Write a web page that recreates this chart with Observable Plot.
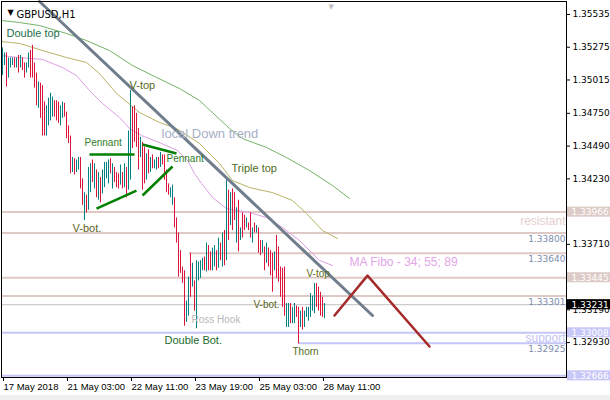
<!DOCTYPE html>
<html><head><meta charset="utf-8">
<script src="https://cdn.jsdelivr.net/npm/d3@7"></script>
<script src="https://cdn.jsdelivr.net/npm/@observablehq/plot@0.6"></script>
<style>
html,body{margin:0;padding:0;background:#f0f0f0;}
#chart svg{display:block;background:#fff;}
</style></head><body><div id="chart"></div>
<script>
// Hourly GBPUSD bars (open / close), bar index 0 = 17 May 2018
const opens = [
1.3505,1.3513,1.3523,1.3503,1.3511,1.3513,1.3519,1.3511,1.3521,1.3511,
1.3519,1.3515,1.3507,1.3511,1.3525,1.3529,1.3515,1.3507,1.3479,1.3499,
1.3497,1.3484,1.3457,1.3465,1.3469,1.3472,1.3485,1.3485,1.3484,1.3465,
1.3471,1.3483,1.3476,1.3465,1.3457,1.3428,1.3439,1.3428,1.3430,1.3440,
1.3423,1.3390,1.3410,1.3398,1.3412,1.3438,1.3415,1.3430,1.3406,1.3424,
1.3411,1.3416,1.3423,1.3419,1.3439,1.3415,1.3432,1.3428,1.3427,1.3418,
1.3428,1.3416,1.3432,1.3414,1.3422,1.3480,1.3481,1.3475,1.3463,1.3440,
1.3452,1.3448,1.3422,1.3446,1.3428,1.3442,1.3431,1.3430,1.3440,1.3432,
1.3442,1.3442,1.3430,1.3419,1.3408,1.3402,1.3408,1.3392,1.3380,1.3366,
1.3353,1.3350,1.3309,1.3314,1.3364,1.3337,1.3342,1.3304,1.3342,1.3344,
1.3350,1.3361,1.3349,1.3370,1.3365,1.3350,1.3353,1.3366,1.3352,1.3372,
1.3353,1.3382,1.3358,1.3414,1.3386,1.3415,1.3412,1.3372,1.3406,1.3374,
1.3396,1.3394,1.3384,1.3388,1.3396,1.3372,1.3388,1.3380,1.3384,1.3374,
1.3364,1.3369,1.3356,1.3368,1.3366,1.3364,1.3350,1.3378,1.3369,1.3353,
1.3352,1.3353,1.3305,1.3305,1.3324,1.3308,1.3308,1.3322,1.3321,1.3305,
1.3321,1.3305,1.3313,1.3310,1.3313,1.3318,1.3316,1.3340,1.3337,1.3333,
1.3329,1.3312];
const closes = [
1.3527,1.3523,1.3496,1.3519,1.3519,1.3519,1.3511,1.3519,1.3507,1.3521,
1.3509,1.3503,1.3515,1.3523,1.3503,1.3503,1.3495,1.3481,1.3500,1.3471,
1.3457,1.3457,1.3481,1.3487,1.3491,1.3488,1.3472,1.3469,1.3467,1.3481,
1.3484,1.3472,1.3455,1.3451,1.3427,1.3440,1.3426,1.3438,1.3440,1.3415,
1.3402,1.3412,1.3396,1.3432,1.3435,1.3420,1.3435,1.3408,1.3428,1.3404,
1.3430,1.3436,1.3436,1.3438,1.3427,1.3435,1.3420,1.3416,1.3415,1.3434,
1.3415,1.3435,1.3408,1.3461,1.3493,1.3447,1.3452,1.3448,1.3430,1.3456,
1.3414,1.3419,1.3443,1.3427,1.3440,1.3431,1.3438,1.3440,1.3431,1.3444,
1.3434,1.3422,1.3412,1.3410,1.3416,1.3418,1.3384,1.3372,1.3345,1.3348,
1.3340,1.3306,1.3326,1.3345,1.3329,1.3356,1.3318,1.3358,1.3357,1.3358,
1.3360,1.3350,1.3372,1.3350,1.3350,1.3368,1.3370,1.3350,1.3376,1.3358,
1.3380,1.3354,1.3422,1.3374,1.3412,1.3382,1.3390,1.3400,1.3365,1.3384,
1.3376,1.3382,1.3392,1.3382,1.3376,1.3384,1.3380,1.3386,1.3364,1.3362,
1.3374,1.3350,1.3372,1.3353,1.3346,1.3333,1.3365,1.3344,1.3341,1.3329,
1.3321,1.3314,1.3324,1.3324,1.3308,1.3321,1.3324,1.3313,1.3292,1.3318,
1.3303,1.3318,1.3321,1.3321,1.3332,1.3330,1.3340,1.3321,1.3318,1.3314,
1.3313,1.3324];

const timeTicks = [0, 32, 64, 96, 128, 160];
const timeLabels = ["17 May 2018", "21 May 03:00", "22 May 11:00", "23 May 19:00", "25 May 03:00", "28 May 11:00"];
const priceTicks = [1.35535, 1.35275, 1.35015, 1.34750, 1.34490, 1.34230, 1.33970, 1.33710, 1.33450, 1.33190, 1.32930];

// Moving averages (MA Fibo 34, 55, 89)
const ma89x = [-0.5, 8.5, 18.5, 32, 42, 53.5, 65, 77, 88.5, 98.5, 113.5, 120, 132, 142, 153.5, 165, 173.5];
const ma89y = [1.35487, 1.35471, 1.35447, 1.35384, 1.35328, 1.35249, 1.35130, 1.35035, 1.34947, 1.34852, 1.34630, 1.34550, 1.34479, 1.34399, 1.34296, 1.34177, 1.34074];
const ma55x = [-0.5, 8.5, 20, 32, 42, 48.5, 57, 68.5, 78.5, 87, 98.5, 108.5, 115, 123.5, 135, 145, 152, 160, 167.5];
const ma55y = [1.35320, 1.35305, 1.35249, 1.35193, 1.35154, 1.35066, 1.34908, 1.34757, 1.34677, 1.34630, 1.34511, 1.34352, 1.34217, 1.34161, 1.34121, 1.34058, 1.33955, 1.33820, 1.33756];
const ma34x = [-0.5, 8.5, 20, 30, 37, 43.5, 50, 58.5, 63.5, 69.5, 79.5, 87.5, 92.5, 96, 99.5, 105, 112, 123.5, 132, 140, 148.5, 155, 158.5, 165];
const ma34y = [1.35209, 1.35193, 1.35178, 1.35114, 1.35050, 1.34931, 1.34828, 1.34717, 1.34630, 1.34574, 1.34511, 1.34455, 1.34376, 1.34272, 1.34194, 1.34082, 1.33994, 1.33963, 1.33923, 1.33844, 1.33740, 1.33638, 1.33582, 1.33542];

// Drawn objects
const trendX = [18.5, 185], trendY = [1.35638, 1.33145];
const zigX = [166, 182.5, 213.5], zigY = [1.33145, 1.33462, 1.32899];
const pennX1 = [43.5, 47, 70, 70], pennY1 = [1.34423, 1.33994, 1.34503, 1.34098];
const pennX2 = [66, 67, 87, 85], pennY2 = [1.34423, 1.34137, 1.34431, 1.34328];

const resistLevels = [1.33966, 1.33800, 1.33640, 1.33445, 1.33301];
const resistStart = [-0.5, -0.5, 93.5, -0.5, -0.5];
const supportLevels = [1.33008, 1.32925, 1.32666];
const supportStart = [-0.5, 148, -0.5];
const bidPrice = 1.33231;
const tagLevels = [1.33966, 1.33445, 1.33008, 1.32666, 1.33231];
const tagKinds = ["res", "res", "sup", "sup", "bid"];
const noteLevels = [1.33800, 1.33640, 1.33301, 1.32925];

const noteText = ["Double top", "V-top", "Pennant", "Pennant", "local Down trend", "Triple top", "V-bot.", "Ross Hook", "Double Bot.", "V-bot.", "V-top", "Thorn", "MA Fibo - 34; 55; 89", "resistant", "support"];
const noteX = [2, 63.5, 41, 82, 79.5, 114.5, 35, 94.5, 81, 125.5, 152, 145, 173.5, 281.5, 281.5];
const noteY = [1.35384, 1.34971, 1.34519, 1.34391, 1.34591, 1.34312, 1.33836, 1.33113, 1.32946, 1.33232, 1.33478, 1.32859, 1.33566, 1.33891, 1.32963];
const noteColor = ["#1d6e4c", "#5b6b18", "#2f7d1f", "#2f7d1f", "#a7afc7", "#4f6b18", "#5b6418", "#b8b8b8", "#1a6b2c", "#5b6418", "#5b6b18", "#4f6b18", "#e3a6e8", "#e6cfca", "#c3c3f3"];
const noteSize = [11, 11, 10, 10, 13, 11, 11, 10, 11, 10, 10, 10, 12, 12, 12];
const noteAnchor = ["start","start","start","start","start","start","start","start","start","start","start","start","start","end","end"];

// ---- build tables ----
const bars = opens.map((o, i) => ({i, open: o, close: closes[i]}));
const pts = (xs, ys) => xs.map((x, k) => ({x, y: ys[k]}));
const segs = pennX1.map((x1, k) => ({x1, y1: pennY1[k], x2: pennX2[k], y2: pennY2[k]}));
const resist = resistLevels.map((y, k) => ({y, x1: resistStart[k]}));
const support = supportLevels.map((y, k) => ({y, x1: supportStart[k]}));
const tags = tagLevels.map((y, k) => ({y, kind: tagKinds[k]}));
const notes = noteText.map((t, k) => ({t, x: noteX[k], y: noteY[k], c: noteColor[k], s: noteSize[k], a: noteAnchor[k]}));

const UP = "#008080", DOWN = "#dc143c";
const RES = "#dfc9c4", SUP = "#c6c6f6";
const tagFill = {res: "#dccbc6", sup: "#c8c8f8", bid: "#000000"};
const X_END = 282;
const AX = "DejaVu Sans, sans-serif";
const TXT = "Liberation Sans, Arial, sans-serif";

const chart = Plot.plot({
  width: 610, height: 395,
  marginLeft: 1, marginRight: 44, marginTop: 1, marginBottom: 18,
  x: {domain: [-0.5, X_END], axis: null},
  y: {domain: [1.32653, 1.35638], axis: null},
  style: {fontFamily: AX, fontSize: "9px", color: "black", background: "white"},
  marks: [
    Plot.ruleY(resist, {y: "y", x1: "x1", x2: () => X_END, stroke: RES, strokeWidth: 2}),
    Plot.ruleY(support, {y: "y", x1: "x1", x2: () => X_END, stroke: SUP, strokeWidth: 2}),
    Plot.ruleY([bidPrice], {x1: () => -0.5, x2: () => X_END, stroke: "#c0c0c0", strokeWidth: 1}),
    Plot.line(pts(ma89x, ma89y), {x: "x", y: "y", stroke: "#74b466", strokeWidth: 1}),
    Plot.line(pts(ma55x, ma55y), {x: "x", y: "y", stroke: "#b9b264", strokeWidth: 1}),
    Plot.line(pts(ma34x, ma34y), {x: "x", y: "y", stroke: "#dc9ee2", strokeWidth: 1}),
    Plot.ruleX(bars, {x: "i", y1: "open", y2: "close", stroke: d => d.close >= d.open ? UP : DOWN, strokeWidth: 1}),
    Plot.line(pts(trendX, trendY), {x: "x", y: "y", stroke: "#6f7d8c", strokeWidth: 3}),
    Plot.line(pts(zigX, zigY), {x: "x", y: "y", stroke: "#a52a2a", strokeWidth: 2.5}),
    Plot.link(segs, {x1: "x1", y1: "y1", x2: "x2", y2: "y2", stroke: "#008000", strokeWidth: 2.5}),
    Plot.text(noteLevels, {x: () => X_END - 0.5, y: d => d, text: d => d.toFixed(5), textAnchor: "end", dy: 6, fill: "#7d8cae", fontSize: 9, fontFamily: AX}),
    Plot.text(notes.filter(d => d.a === "start"), {x: "x", y: "y", text: "t", fill: "c", fontSize: "s", textAnchor: "start", fontFamily: TXT}),
    Plot.text(notes.filter(d => d.a === "end"), {x: "x", y: "y", text: "t", fill: "c", fontSize: "s", textAnchor: "end", fontFamily: TXT}),
    Plot.frame({stroke: "black"}),
    Plot.axisX(timeTicks, {tickSize: 4, tickPadding: 2, textAnchor: "start", dx: 1, tickFormat: d => timeLabels[timeTicks.indexOf(d)], label: null, fontSize: 9.5, fontFamily: TXT}),
    Plot.axisY(priceTicks, {anchor: "right", tickSize: 3, tickPadding: 3, tickFormat: d => d.toFixed(5), label: null, fontSize: 9}),
    Plot.rect(tags, {x1: () => X_END + 0.5, x2: () => X_END + 22.5, y1: d => d.y - 0.0004, y2: d => d.y + 0.0004, fill: d => tagFill[d.kind]}),
    Plot.text(tags, {x: () => X_END + 2.5, y: "y", text: d => d.y.toFixed(5), fill: "white", textAnchor: "start", fontSize: 9, fontFamily: AX}),
    Plot.text(["▼"], {frameAnchor: "top-left", dx: 6, dy: 8, fontSize: 8, fill: "black"}),
    Plot.text(["GBPUSD,H1"], {frameAnchor: "top-left", dx: 15, dy: 9, textAnchor: "start", fontSize: 10, fill: "black", fontFamily: AX}),
    Plot.text(["▼"], {frameAnchor: "top-left", dx: 327, dy: 3, fontSize: 7, fill: "#c0c0c0"})
  ]
});
document.getElementById("chart").appendChild(chart);
</script></body></html>
